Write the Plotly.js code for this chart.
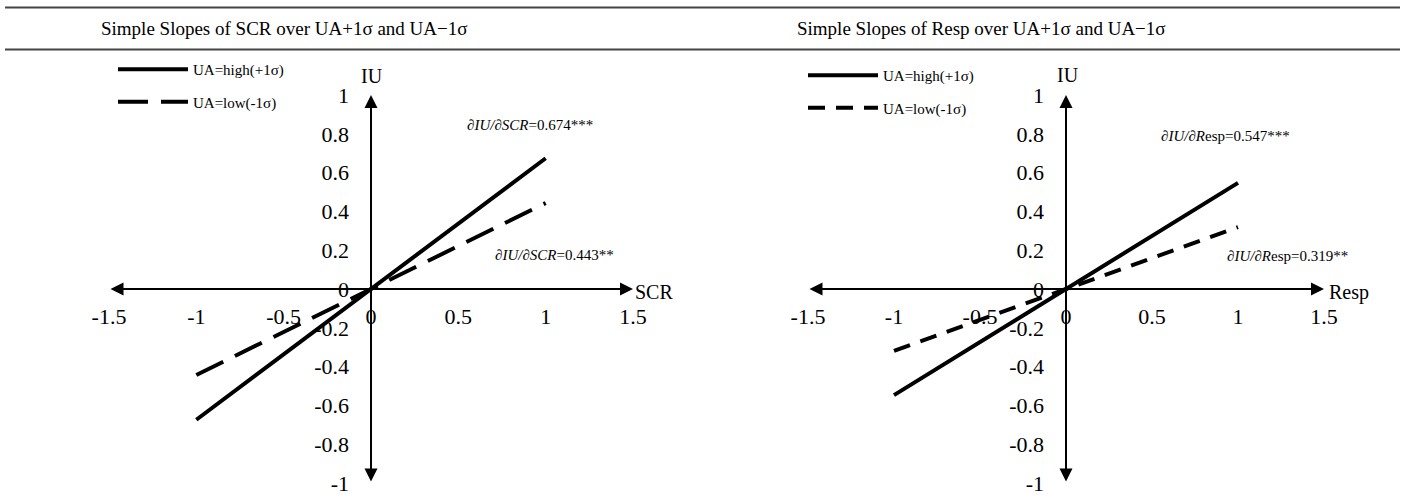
<!DOCTYPE html>
<html><head><meta charset="utf-8">
<script src="https://cdn.plot.ly/plotly-3.0.1.min.js"></script>
<style>html,body{margin:0;padding:0;background:#fff}#chart{width:1405px;height:503px}</style>
</head><body><div id="chart"></div>
<script>
// ---- data ----
const xEnds = [-1, 1];
const scrHigh = [-0.674, 0.674];
const scrLow = [-0.443, 0.443];
const respHigh = [-0.547, 0.547];
const respLow = [-0.319, 0.319];
const xTickVals = [-1.5, -1, -0.5, 0, 0.5, 1, 1.5];
const xTickText = ['-1.5', '-1', '-0.5', '0', '0.5', '1', '1.5'];
const yTickVals = [-1, -0.8, -0.6, -0.4, -0.2, 0, 0.2, 0.4, 0.6, 0.8, 1];
const yTickText = ['-1', '-0.8', '-0.6', '-0.4', '-0.2', '0', '0.2', '0.4', '0.6', '0.8', '1'];
const legendNames = ['UA=high(+1σ)', 'UA=low(-1σ)'];
const panelTitles = ['Simple Slopes of SCR over UA+1σ and UA−1σ', 'Simple Slopes of Resp over UA+1σ and UA−1σ'];
const xNames = ['SCR', 'Resp'];
const yName = 'IU';
const slopeLabels = ['<i>∂IU/∂SCR</i>=0.674***', '<i>∂IU/∂SCR</i>=0.443**',
                     '<i>∂IU/∂R</i>esp=0.547***', '<i>∂IU/∂R</i>esp=0.319**'];

// ---- style ----
const serif = 'Liberation Serif, Times New Roman, serif';
const W = 1405, H = 503;
const px = v => v / W, py = v => 1 - v / H;
const yDom = [py(483), py(95)];
const xDomL = [px(109), px(633)];
const xDomR = [px(808), px(1324)];
const xZeroPos = (yDom[0] + yDom[1]) / 2;

function lineTrace(x, y, name, dash, xa, ya, leg, grp) {
  return {type: 'scatter', mode: 'lines', x: x, y: y, name: name, xaxis: xa, yaxis: ya,
    legend: leg, legendgroup: grp, line: {color: '#000', width: 4, dash: dash}};
}
const traces = [
  lineTrace(xEnds, scrHigh, legendNames[0], 'solid', 'x', 'y', 'legend', 'a1'),
  lineTrace(xEnds, scrLow, legendNames[1], '30px,13px', 'x', 'y', 'legend', 'a2'),
  lineTrace(xEnds, respHigh, legendNames[0], 'solid', 'x2', 'y2', 'legend2', 'b1'),
  lineTrace(xEnds, respLow, legendNames[1], '17px,11px', 'x2', 'y2', 'legend2', 'b2')
];

function xAxis(dom) {
  return {domain: dom, range: [xTickVals[0], xTickVals[xTickVals.length - 1]], anchor: 'free', position: xZeroPos,
    showline: false, zeroline: false, showgrid: false, ticks: '', tickvals: xTickVals, ticktext: xTickText,
    tickfont: {family: serif, size: 22, color: '#000'}, ticklabelstandoff: 12};
}
function yAxis(pos) {
  return {domain: yDom, range: [yTickVals[0], yTickVals[yTickVals.length - 1]], anchor: 'free', position: pos, side: 'left',
    showline: false, zeroline: false, showgrid: false, ticks: '', tickvals: yTickVals, ticktext: yTickText,
    tickfont: {family: serif, size: 22, color: '#000'}, ticklabelstandoff: 22};
}

function arrow(xr, yr, x, y, ax, ay) {
  return {xref: xr, yref: yr, axref: xr, ayref: yr, x: x, y: y, ax: ax, ay: ay, text: '',
    showarrow: true, arrowhead: 2, arrowside: 'end+start', arrowsize: 1.3, arrowwidth: 2,
    arrowcolor: '#000', standoff: 0, startstandoff: 0};
}
const xMin = xTickVals[0], xMax = xTickVals[xTickVals.length - 1];
const yMin = yTickVals[0], yMax = yTickVals[yTickVals.length - 1];

function txt(xr, yr, x, y, text, size, xanchor, xshift, yshift) {
  return {xref: xr, yref: yr, x: x, y: y, text: text, showarrow: false, xanchor: xanchor || 'center', yanchor: 'middle',
    xshift: xshift || 0, yshift: yshift || 0, font: {family: serif, size: size, color: '#000'}};
}

const annotations = [
  arrow('x', 'y', xMax, 0, xMin, 0),
  arrow('x', 'y', 0, yMax, 0, yMin),
  arrow('x2', 'y2', xMax, 0, xMin, 0),
  arrow('x2', 'y2', 0, yMax, 0, yMin),
  txt('paper', 'paper', px(284), py(28), panelTitles[0], 19),
  txt('paper', 'paper', px(982), py(28), panelTitles[1], 19),
  txt('x', 'y', 0, yMax, yName, 20, 'center', 1, 19),
  txt('x2', 'y2', 0, yMax, yName, 20, 'center', 2, 20),
  txt('x', 'y', xMax, 0, xNames[0], 20, 'left', 0, -3),
  txt('x2', 'y2', xMax, 0, xNames[1], 20, 'left', 3, -3),
  txt('x', 'y', 0.91, 0.845, slopeLabels[0], 15),
  txt('x', 'y', 1.05, 0.175, slopeLabels[1], 15),
  txt('x2', 'y2', 0.93, 0.79, slopeLabels[2], 15),
  txt('x2', 'y2', 1.29, 0.17, slopeLabels[3], 15)
];

const shapes = [
  {type: 'line', xref: 'paper', yref: 'paper', x0: px(5), x1: px(1400), y0: py(7.5), y1: py(7.5), line: {color: '#444', width: 2}},
  {type: 'line', xref: 'paper', yref: 'paper', x0: px(5), x1: px(1400), y0: py(49.5), y1: py(49.5), line: {color: '#444', width: 2}}
];

const legendStyle = (x, y) => ({x: x, y: y, xanchor: 'left', yanchor: 'top', bgcolor: 'rgba(0,0,0,0)',
  font: {family: serif, size: 15, color: '#000'}, itemwidth: 70, tracegroupgap: 10, traceorder: 'grouped'});

const layout = {
  width: W, height: H, margin: {l: 0, r: 0, t: 0, b: 0},
  paper_bgcolor: '#fff', plot_bgcolor: '#fff', showlegend: true,
  xaxis: xAxis(xDomL), yaxis: yAxis((xDomL[0] + xDomL[1]) / 2),
  xaxis2: xAxis(xDomR), yaxis2: yAxis((xDomR[0] + xDomR[1]) / 2),
  legend: legendStyle(px(113), py(53)),
  legend2: legendStyle(px(803), py(59)),
  annotations: annotations, shapes: shapes
};
Plotly.newPlot('chart', traces, layout, {staticPlot: true, displayModeBar: false});
</script></body></html>
